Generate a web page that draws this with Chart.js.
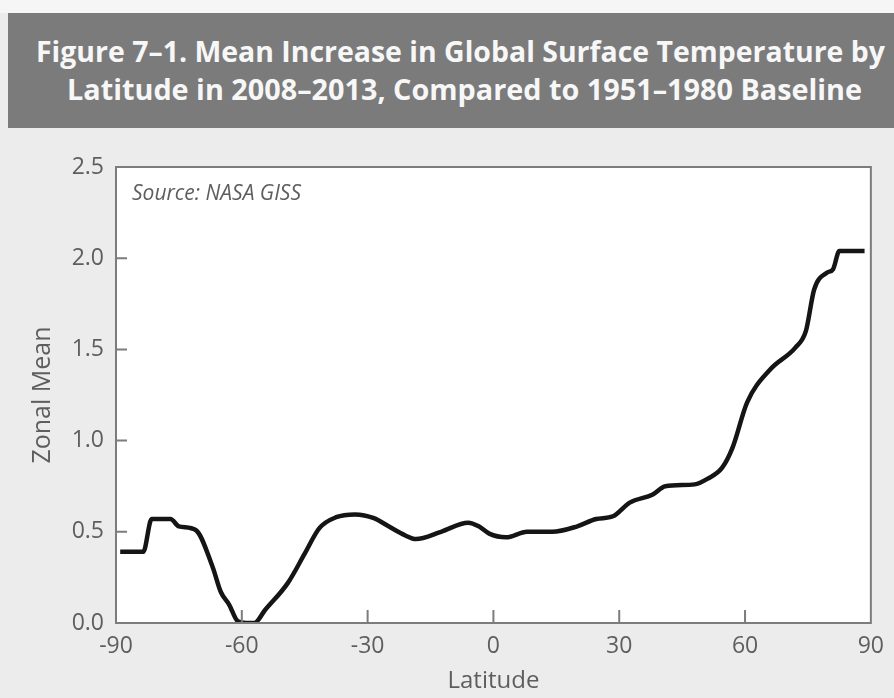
<!DOCTYPE html>
<html>
<head>
<meta charset="utf-8">
<script src="https://cdn.jsdelivr.net/npm/chart.js@4.4.1/dist/chart.umd.min.js"></script>
<style>
  html, body { margin: 0; padding: 0; }
  body { width: 894px; height: 698px; background: #ececec; position: relative; overflow: hidden; font-family: "Open Sans", sans-serif; }
  #topStrip { position: absolute; left: 0; top: 0; width: 894px; height: 13px; background: #f6f6f6; }
  #banner { position: absolute; left: 8px; top: 13px; width: 886px; height: 115px; background: #7b7b7b; z-index: 2; }
  .tline { position: absolute; white-space: nowrap; color: #f7f7f7; font-weight: 700; font-size: 29px; line-height: 29px; transform-origin: 0 0; }
  #wrap { position: absolute; left: 0; top: 0; width: 894px; height: 698px; }
</style>
</head>
<body>
<div id="topStrip"></div>
<div id="banner">
  <span class="tline" id="t1" data-w="849" style="left:28px; top:23px;">Figure 7–1. Mean Increase in Global Surface Temperature by</span>
  <span class="tline" id="t2" data-w="795" style="left:59px; top:61px;">Latitude in 2008–2013, Compared to 1951–1980 Baseline</span>
</div>
<div id="wrap"><canvas id="chart"></canvas></div>
<script>
// zonal mean anomaly
var latitudes = [-89, -83.5, -81.5, -77, -75, -71, -67, -65, -63, -61, -59, -57, -54.5, -49, -45, -41.5, -37.5, -33, -28.5, -25, -21, -18.5, -12.5, -6, -3.5, -1, 3, 8, 14, 20, 24.5, 28.5, 32.5, 38, 41, 48, 51, 54.5, 57, 60.5, 66, 72, 74.5, 76.5, 79.5, 81, 82.5, 88.5];
var zonalMean = [0.39, 0.39, 0.57, 0.57, 0.53, 0.51, 0.31, 0.17, 0.10, 0.01, 0.0, 0.0, 0.07, 0.22, 0.38, 0.52, 0.58, 0.595, 0.575, 0.53, 0.48, 0.46, 0.50, 0.55, 0.53, 0.49, 0.47, 0.50, 0.50, 0.53, 0.57, 0.585, 0.66, 0.705, 0.75, 0.76, 0.79, 0.85, 0.96, 1.21, 1.39, 1.51, 1.60, 1.83, 1.92, 1.94, 2.04, 2.04];
var xTicks = [-90, -60, -30, 0, 30, 60, 90];
var yTicks = [0, 0.5, 1.0, 1.5, 2.0, 2.5];
var sourceNote = 'Source: NASA GISS';

// squeeze the title lines to the banner widths
document.querySelectorAll('.tline').forEach(function (el) {
    var w = el.getBoundingClientRect().width;
    el.style.transform = 'scaleX(' + (parseFloat(el.dataset.w) / w) + ')';
});

var points = latitudes.map(function (lat, i) { return { x: lat, y: zonalMean[i] }; });
var axisGrey = '#7c7c7c';
var textGrey = '#5e5e5e';

var framePlugin = {
    id: 'frame',
    beforeDraw: function (chart) {
        var a = chart.chartArea, ctx = chart.ctx;
        ctx.save();
        ctx.fillStyle = '#ffffff';
        ctx.fillRect(a.left, a.top, a.right - a.left, a.bottom - a.top);
        ctx.restore();
    },
    afterDraw: function (chart) {
        var a = chart.chartArea, ctx = chart.ctx;
        var xs = chart.scales.x, ys = chart.scales.y;
        ctx.save();
        ctx.strokeStyle = axisGrey;
        ctx.lineWidth = 2;
        ctx.strokeRect(a.left, a.top, a.right - a.left, a.bottom - a.top);
        // inward tick marks
        ctx.beginPath();
        xTicks.slice(1, -1).forEach(function (v) {
            var px = xs.getPixelForValue(v);
            ctx.moveTo(px, a.bottom);
            ctx.lineTo(px, a.bottom - 13);
        });
        yTicks.slice(1, -1).forEach(function (v) {
            var py = ys.getPixelForValue(v);
            ctx.moveTo(a.left, py);
            ctx.lineTo(a.left + 11, py);
        });
        ctx.stroke();
        ctx.fillStyle = textGrey;
        ctx.font = 'italic 21px "Open Sans"';
        ctx.textBaseline = 'alphabetic';
        ctx.fillText(sourceNote, a.left + 16, a.top + 33);
        ctx.restore();
    }
};

new Chart(document.getElementById('chart'), {
    type: 'line',
    data: {
        datasets: [{
            data: points,
            borderColor: '#151515',
            borderWidth: 4.5,
            pointRadius: 0,
            cubicInterpolationMode: 'monotone',
            fill: false
        }]
    },
    plugins: [framePlugin],
    options: {
        responsive: true,
        maintainAspectRatio: false,
        animation: false,
        layout: { padding: { top: 167, right: 12, left: 0, bottom: 0 } },
        plugins: { legend: { display: false }, tooltip: { enabled: false } },
        scales: {
            x: {
                type: 'linear',
                min: -90,
                max: 90,
                afterBuildTicks: function (scale) {
                    scale.ticks = xTicks.map(function (v) { return { value: v }; });
                },
                afterFit: function (scale) { scale.height = 75; },
                grid: { display: false, drawTicks: false },
                border: { display: true, color: axisGrey, width: 2 },
                ticks: { color: textGrey, font: { family: 'Open Sans', size: 23 }, padding: 10, autoSkip: false, maxRotation: 0 },
                title: { display: true, text: 'Latitude', color: textGrey, font: { family: 'Open Sans', size: 24 }, padding: { top: 0, bottom: 2 } }
            },
            y: {
                min: 0,
                max: 2.5,
                afterBuildTicks: function (scale) {
                    scale.ticks = yTicks.map(function (v) { return { value: v }; });
                },
                afterFit: function (scale) { scale.width = 116; },
                grid: { display: false, drawTicks: false },
                border: { display: true, color: axisGrey, width: 2 },
                ticks: {
                    color: textGrey,
                    font: { family: 'Open Sans', size: 23 },
                    padding: 12,
                    callback: function (v) { return Number(v).toFixed(1); }
                },
                title: { display: true, text: 'Zonal Mean', color: textGrey, font: { family: 'Open Sans', size: 25 }, padding: { top: 28, bottom: 0 } }
            }
        }
    }
});
</script>
</body>
</html>
